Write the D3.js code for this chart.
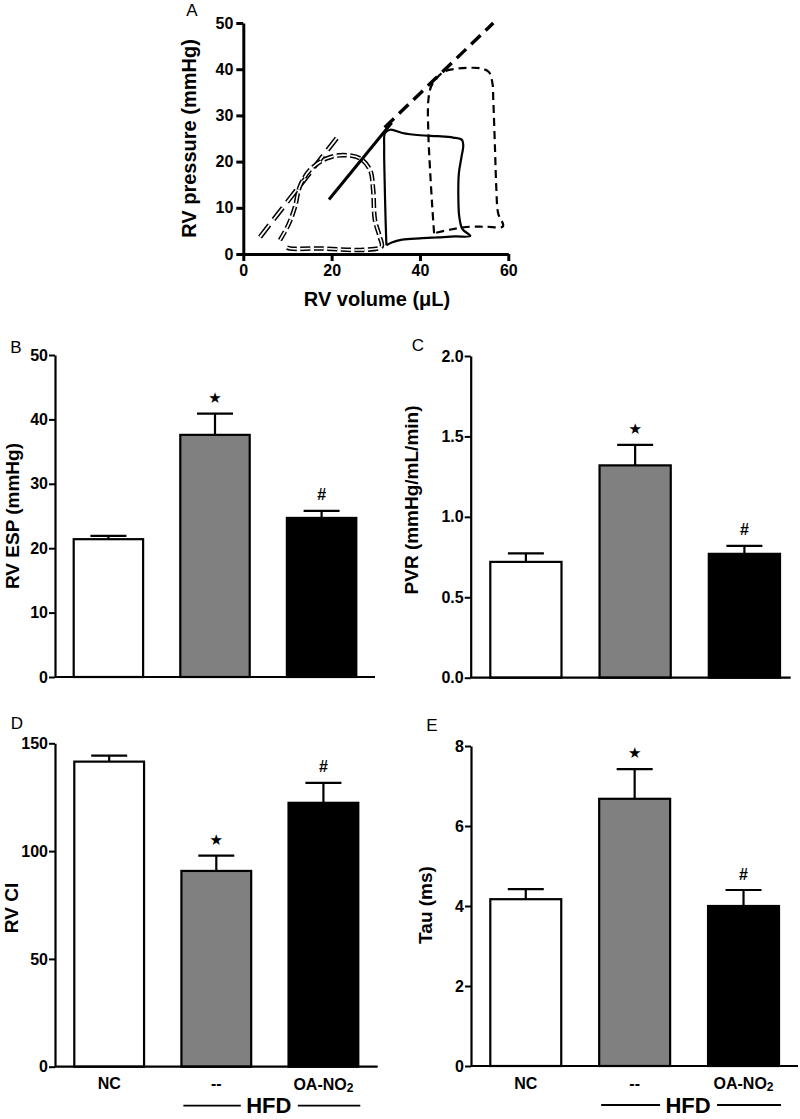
<!DOCTYPE html>
<html><head><meta charset="utf-8">
<script src="https://cdn.jsdelivr.net/npm/d3@7"></script>
<style>
body{margin:0;background:#fff}
svg{display:block}
text{font-family:"Liberation Sans",Arial,Helvetica,sans-serif}
</style>
</head><body>
<svg id="c" width="800" height="1119"></svg>
<script>
// ---------- DATA ----------
const groups = ["NC", "--", "OA-NO2"];
const fills = ["#ffffff", "#808080", "#000000"];

const espMean = [21.4, 37.6, 24.7];
const espErr  = [0.5, 3.3, 1.1];
const espSig  = ["", "★", "#"];

const pvrMean = [0.72, 1.32, 0.77];
const pvrErr  = [0.053, 0.128, 0.05];
const pvrSig  = ["", "★", "#"];

const ciMean = [141.5, 90.8, 122.4];
const ciErr  = [2.8, 7.1, 9.2];
const ciSig  = ["", "★", "#"];

const tauMean = [4.17, 6.68, 4.0];
const tauErr  = [0.25, 0.74, 0.4];
const tauSig  = ["", "★", "#"];

const espTicks = [0, 10, 20, 30, 40, 50];
const pvrTicks = [0, 0.5, 1.0, 1.5, 2.0];
const ciTicks  = [0, 50, 100, 150];
const tauTicks = [0, 2, 4, 6, 8];

// Panel A: pressure-volume loops [volume uL, pressure mmHg]
const pvVolTicks = [0, 20, 40, 60];
const pvPresTicks = [0, 10, 20, 30, 40, 50];
const ncLoop = [[8.3,3.0],[10.2,6.3],[11.7,10.2],[12.8,14.6],[15.1,18.2],[18.9,20.7],[22.6,21.4],[26.4,20.7],[28.7,18.2],[29.4,13.9],[29.8,7.4],[30.9,3.7],[31.3,1.6],[27.2,0.9],[17.4,1.2],[10.6,1.2],[9.4,1.6]];
const hfdLoop = [[43.2,4.5],[42.8,10],[42.3,18],[41.9,26],[41.9,33.3],[42.5,36.2],[43.4,37.6],[45.3,39.4],[48.3,40.1],[51,40.3],[53.6,40.2],[55.6,39.4],[56.4,37],[56.6,33.3],[57,22.5],[57.3,14],[57.7,8.8],[58.8,6.0],[55,5.9],[51.3,5.9],[47,5.3],[43.2,4.5]];
const oaLoop = [[32.4,1.9],[32.2,8],[32.0,16],[31.9,23],[32.1,26.2],[33.3,26.9],[36,26.2],[40,25.7],[44,25.5],[47.5,25.2],[49.5,24.7],[49.8,23.5],[49.4,21],[48.8,17.4],[48.7,11.7],[48.9,8.1],[49.6,5.4],[51.4,3.9],[48,3.8],[44,3.6],[40,3.4],[36,3.1],[33.6,2.5],[32.4,1.9]];
const ncEspvr  = [[3.8,3.7],[21.5,25.5]];
const hfdEspvr = [[32.0,27.4],[56.6,50]];
const oaEspvr  = [[19.4,11.8],[33.6,28.4]];

// ---------- DRAW ----------
const svg = d3.select("#c");
const FF = '"Liberation Sans",Arial,sans-serif';

// ----- Panel A -----
(function(){
  const x = d3.scaleLinear().domain([0,60]).range([243.3,508.3]);
  const y = d3.scaleLinear().domain([0,50]).range([254,23]);
  const g = svg.append("g");
  const line = d3.line().x(d=>x(d[0])).y(d=>y(d[1]));
  const cr = d3.line().x(d=>x(d[0])).y(d=>y(d[1])).curve(d3.curveCatmullRom.alpha(0.5));

  // NC ESPVR double dashed
  g.append("path").attr("d", line(ncEspvr)).attr("fill","none").attr("stroke","#000").attr("stroke-width",4.8).attr("stroke-dasharray","15,7");
  g.append("path").attr("d", line(ncEspvr)).attr("fill","none").attr("stroke","#fff").attr("stroke-width",1.8).attr("stroke-dasharray","15,7");
  // NC loop double dashed
  g.append("path").attr("d", cr(ncLoop)).attr("fill","none").attr("stroke","#000").attr("stroke-width",4.6).attr("stroke-dasharray","10,3.5");
  g.append("path").attr("d", cr(ncLoop)).attr("fill","none").attr("stroke","#fff").attr("stroke-width",1.6).attr("stroke-dasharray","10,3.5");
  // HFD loop dashed
  g.append("path").attr("d", cr(hfdLoop)).attr("fill","none").attr("stroke","#000").attr("stroke-width",2.2).attr("stroke-dasharray","8,5");
  // OA loop solid
  g.append("path").attr("d", cr(oaLoop)).attr("fill","none").attr("stroke","#000").attr("stroke-width",2.2);
  // ESPVR lines
  g.append("path").attr("d", line(hfdEspvr)).attr("fill","none").attr("stroke","#000").attr("stroke-width",3.4).attr("stroke-dasharray","13,7");
  g.append("path").attr("d", line(oaEspvr)).attr("fill","none").attr("stroke","#000").attr("stroke-width",3);

  const ax = g.append("g").attr("transform",`translate(0,${y(0)})`)
    .call(d3.axisBottom(x).tickValues(pvVolTicks).tickSize(7).tickSizeOuter(0).tickPadding(4));
  const ay = g.append("g").attr("transform",`translate(${x(0)},0)`)
    .call(d3.axisLeft(y).tickValues(pvPresTicks).tickSize(7).tickSizeOuter(0).tickPadding(3));
  [ax,ay].forEach(a=>{
    a.select(".domain").attr("stroke-width",3);
    a.selectAll(".tick line").attr("stroke-width",3);
    a.selectAll("text").attr("font-size",16).attr("font-weight","bold").attr("fill","#000").style("font-family",FF);
  });
  g.append("text").attr("x",377).attr("y",306).attr("text-anchor","middle").attr("font-size",20).attr("font-weight","bold").text("RV volume (μL)");
  g.append("text").attr("transform",`translate(189,${(23+254)/2}) rotate(-90)`).attr("text-anchor","middle")
    .attr("dominant-baseline","central").attr("font-size",20).attr("font-weight","bold").text("RV pressure (mmHg)");
  g.append("text").attr("x",192).attr("y",16).attr("text-anchor","middle").attr("font-size",17).text("A");
})();

// ----- Bar panels -----
function barPanel(cfg){
  const g = svg.append("g");
  const y = d3.scaleLinear().domain(cfg.domain).range([cfg.yBase, cfg.yTop]);
  const x = d3.scaleBand().domain(groups).range(cfg.band).paddingInner(0.33).paddingOuter(0);
  const bw = x.bandwidth();

  // bars
  g.selectAll("rect.bar").data(cfg.mean).join("rect")
    .attr("x",(d,i)=>x(groups[i])+1).attr("width",bw-2)
    .attr("y",d=>y(d)).attr("height",d=>cfg.yBase-y(d))
    .attr("fill",(d,i)=>fills[i]).attr("stroke","#000").attr("stroke-width",2.2);
  // error bars
  const eb = g.selectAll("g.eb").data(cfg.mean).join("g");
  eb.append("line")
    .attr("x1",(d,i)=>x(groups[i])+bw/2).attr("x2",(d,i)=>x(groups[i])+bw/2)
    .attr("y1",d=>y(d)).attr("y2",(d,i)=>y(d+cfg.err[i]))
    .attr("stroke","#000").attr("stroke-width",2.2);
  eb.append("line")
    .attr("x1",(d,i)=>x(groups[i])+bw/2-18).attr("x2",(d,i)=>x(groups[i])+bw/2+18)
    .attr("y1",(d,i)=>y(d+cfg.err[i])).attr("y2",(d,i)=>y(d+cfg.err[i]))
    .attr("stroke","#000").attr("stroke-width",2.2);
  // significance marks
  g.selectAll("text.sig").data(cfg.mean).join("text")
    .attr("x",(d,i)=>x(groups[i])+bw/2)
    .attr("y",(d,i)=>y(d+cfg.err[i])-16)
    .attr("text-anchor","middle").attr("dominant-baseline","central")
    .attr("font-size",(d,i)=>cfg.sig[i]==="★"?15:16)
    .attr("font-weight","bold")
    .style("font-family",(d,i)=>cfg.sig[i]==="★"?'"DejaVu Sans",sans-serif':FF)
    .text((d,i)=>cfg.sig[i]);

  // x axis line
  g.append("line").attr("x1",cfg.axisX).attr("x2",cfg.xEnd).attr("y1",cfg.yBase).attr("y2",cfg.yBase)
    .attr("stroke","#000").attr("stroke-width",2.2);
  // y axis
  const ay = g.append("g").attr("transform",`translate(${cfg.axisX},0)`)
    .call(d3.axisLeft(y).tickValues(cfg.ticks).tickFormat(cfg.fmt).tickSize(6).tickSizeOuter(0).tickPadding(1));
  ay.select(".domain").attr("stroke-width",2.2);
  ay.selectAll(".tick line").attr("stroke-width",2);
  ay.selectAll("text").attr("font-size",16).attr("font-weight","bold").attr("fill","#000").style("font-family",FF);

  // y label
  g.append("text").attr("transform",`translate(${cfg.labelX},${cfg.labelY}) rotate(-90)`)
    .attr("text-anchor","middle").attr("dominant-baseline","central").attr("font-size",19).attr("font-weight","bold").text(cfg.label);
  // panel letter
  g.append("text").attr("x",cfg.letterPos[0]).attr("y",cfg.letterPos[1]).attr("text-anchor","middle")
    .attr("dominant-baseline","central").attr("font-size",17).text(cfg.letter);

  if (cfg.cats){
    const ly = cfg.yBase + 17;
    groups.forEach((gname,i)=>{
      const t = g.append("text").attr("x",x(gname)+bw/2).attr("y",ly).attr("text-anchor","middle")
        .attr("dominant-baseline","central").attr("font-size",16).attr("font-weight","bold");
      if (gname==="OA-NO2"){
        t.append("tspan").text("OA-NO");
        t.append("tspan").attr("font-size",12).attr("dy",4).text("2");
      } else t.text(gname);
    });
    // HFD bracket
    const hx1 = x(groups[1]) + 3, hx2 = x(groups[2]) + bw + 1;
    const hy = cfg.yBase + 39;
    const cx = (hx1+hx2)/2 - 3;
    g.append("line").attr("x1",hx1).attr("x2",cx-28).attr("y1",hy).attr("y2",hy).attr("stroke","#000").attr("stroke-width",1.8);
    g.append("line").attr("x1",cx+29).attr("x2",hx2).attr("y1",hy).attr("y2",hy).attr("stroke","#000").attr("stroke-width",1.8);
    g.append("text").attr("x",cx).attr("y",hy).attr("text-anchor","middle").attr("dominant-baseline","central")
      .attr("font-size",22).attr("font-weight","bold").text("HFD");
  }
}

barPanel({mean:espMean, err:espErr, sig:espSig, domain:[0,50], ticks:espTicks, fmt:d3.format("d"),
  axisX:55, xEnd:375, yBase:677, yTop:355, band:[72.7,357.3], labelX:12, labelY:516, label:"RV ESP (mmHg)",
  letter:"B", letterPos:[16,347]});
barPanel({mean:pvrMean, err:pvrErr, sig:pvrSig, domain:[0,2], ticks:pvrTicks, fmt:d3.format(".1f"),
  axisX:470.7, xEnd:790.7, yBase:677.7, yTop:356, band:[489.3,781], labelX:411, labelY:500, label:"PVR (mmHg/mL/min)",
  letter:"C", letterPos:[418,345]});
barPanel({mean:ciMean, err:ciErr, sig:ciSig, domain:[0,150], ticks:ciTicks, fmt:d3.format("d"),
  axisX:55, xEnd:377.7, yBase:1066.7, yTop:743.3, band:[73.3,359.3], labelX:11, labelY:908, label:"RV CI",
  letter:"D", letterPos:[17,723], cats:true});
barPanel({mean:tauMean, err:tauErr, sig:tauSig, domain:[0,8], ticks:tauTicks, fmt:d3.format("d"),
  axisX:471, xEnd:798, yBase:1066, yTop:746, band:[489.3,780], labelX:425, labelY:905, label:"Tau (ms)",
  letter:"E", letterPos:[432,725], cats:true});
</script>
</body></html>
